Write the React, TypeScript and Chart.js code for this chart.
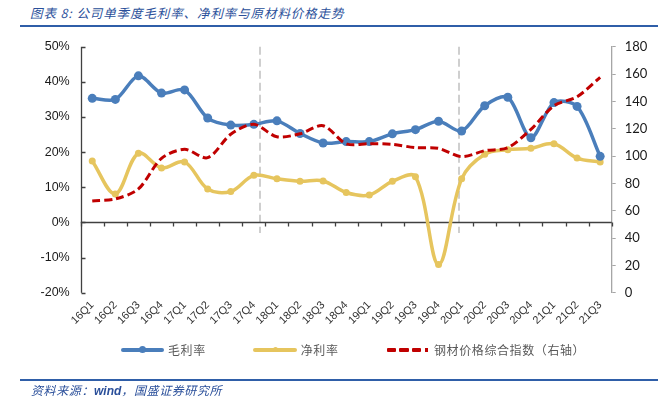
import React, { useEffect, useRef } from "react";
import { Chart, registerables } from "chart.js";

Chart.register(...registerables);

const categories = [
  "16Q1", "16Q2", "16Q3", "16Q4", "17Q1", "17Q2", "17Q3", "17Q4",
  "18Q1", "18Q2", "18Q3", "18Q4", "19Q1", "19Q2", "19Q3", "19Q4",
  "20Q1", "20Q2", "20Q3", "20Q4", "21Q1", "21Q2", "21Q3",
];
const grossMargin = [
  35.3, 35.0, 41.7, 36.8, 37.7, 29.7, 27.7, 27.9, 28.9, 25.3, 22.6, 23.0,
  23.0, 25.2, 26.4, 28.8, 26.0, 33.2, 35.6, 24.1, 34.1, 33.0, 18.8,
];
const netMargin = [
  17.5, 8.1, 19.7, 15.5, 17.2, 9.5, 8.8, 13.4, 12.4, 11.7, 11.8, 8.5,
  7.8, 11.7, 13.0, -12.0, 12.4, 19.4, 20.7, 21.1, 22.4, 18.3, 17.2,
];
const steelIndex = [
  67.1, 68.6, 75.9, 98.3, 104.9, 98.8, 115.9, 123.2, 114.1, 116.3, 122.2, 109.0,
  109.0, 108.6, 106.1, 105.6, 99.5, 103.9, 106.1, 119.5, 136.8, 143.4, 157.6,
];
const leftTicks = { min: -20, max: 50, step: 10 };
const rightTicks = { min: 0, max: 180, step: 20 };
const dividerPositions = [7.27, 15.9];
const dividerRange = [50, -3];

const seriesNames = ["毛利率", "净利率", "钢材价格综合指数（右轴）"];
const titleText = "图表 8:  公司单季度毛利率、净利率与原材料价格走势";

const BLUE = "#4a7ebb";
const YELLOW = "#e6c55e";
const RED = "#c00000";

const axesPlugin = {
  id: "customAxes",
  beforeDatasetsDraw(chart: any) {
    const { ctx, chartArea, scales } = chart;
    const x = scales.x;
    const y = scales.y;
    ctx.save();
    // dashed dividers
    ctx.strokeStyle = "#cfcfcf";
    ctx.lineWidth = 2;
    ctx.setLineDash([8, 4]);
    for (const p of dividerPositions) {
      const px = Math.round(x.getPixelForValue(p)) + 0.0;
      ctx.beginPath();
      ctx.moveTo(px, y.getPixelForValue(dividerRange[0]));
      ctx.lineTo(px, y.getPixelForValue(dividerRange[1]));
      ctx.stroke();
    }
    ctx.setLineDash([]);
    // left axis
    ctx.strokeStyle = "#404040";
    ctx.lineWidth = 1.3;
    const lx = Math.round(chartArea.left) + 0.5;
    ctx.beginPath();
    ctx.moveTo(lx, chartArea.top);
    ctx.lineTo(lx, chartArea.bottom);
    for (let v = leftTicks.min; v <= leftTicks.max; v += leftTicks.step) {
      const py = Math.round(y.getPixelForValue(v)) + 0.5;
      ctx.moveTo(lx, py);
      ctx.lineTo(lx + 4, py);
    }
    ctx.stroke();
    // x axis line at zero
    const y0 = Math.round(y.getPixelForValue(0)) + 0.5;
    ctx.beginPath();
    ctx.moveTo(chartArea.left, y0);
    ctx.lineTo(chartArea.right, y0);
    for (let i = 0; i <= categories.length; i++) {
      const px = Math.round(x.getPixelForValue(i - 0.5)) + 0.5;
      ctx.moveTo(px, y0);
      ctx.lineTo(px, y0 + 4);
    }
    ctx.stroke();
    ctx.restore();
  },
};

function ChartCanvas() {
  const ref = useRef<HTMLCanvasElement | null>(null);
  useEffect(() => {
    if (!ref.current) return;
    const chart = new Chart(ref.current, {
      type: "line",
      data: {
        labels: categories,
        datasets: [
          {
            label: seriesNames[2],
            data: steelIndex,
            yAxisID: "y1",
            borderColor: RED,
            borderWidth: 3,
            borderDash: [8, 4],
            pointRadius: 0,
            tension: 0.3,
            fill: false,
          },
          {
            label: seriesNames[0],
            data: grossMargin,
            yAxisID: "y",
            borderColor: BLUE,
            backgroundColor: BLUE,
            borderWidth: 3.5,
            pointRadius: 4.5,
            pointBorderWidth: 0,
            tension: 0.3,
            fill: false,
          },
          {
            label: seriesNames[1],
            data: netMargin,
            yAxisID: "y",
            borderColor: YELLOW,
            backgroundColor: YELLOW,
            borderWidth: 3.5,
            pointRadius: 3.5,
            pointBorderWidth: 0,
            tension: 0.35,
            fill: false,
          },
        ],
      },
      options: {
        responsive: false,
        animation: false,
        devicePixelRatio: 1,
        layout: { padding: { top: 46.7, left: 0, right: 0, bottom: 65.3 } },
        plugins: { legend: { display: false }, tooltip: { enabled: false } },
        scales: {
          x: {
            type: "category",
            offset: true,
            grid: { display: false, drawTicks: false },
            border: { display: false },
            ticks: {
              minRotation: 45,
              maxRotation: 45,
              autoSkip: false,
              padding: 6,
              color: "#333333",
              font: { family: "'Liberation Sans', Arial", size: 11 },
            },
            afterFit: (s: any) => { s.height = 40; },
          },
          y: {
            position: "left",
            min: leftTicks.min,
            max: leftTicks.max,
            grid: { display: false, drawTicks: false },
            border: { display: false },
            ticks: {
              stepSize: leftTicks.step,
              padding: 11,
              color: "#1a1a1a",
              font: { family: "'Liberation Sans', Arial", size: 12.5 },
              callback: (v: any) => `${v}%`,
            },
            afterFit: (s: any) => { s.width = 80.7; },
          },
          y1: {
            position: "right",
            min: rightTicks.min,
            max: rightTicks.max,
            grid: { drawOnChartArea: false, drawTicks: true, tickLength: 4, color: "#a6a6a6" },
            border: { display: true, color: "#a6a6a6", width: 1.3 },
            ticks: {
              stepSize: rightTicks.step,
              padding: 9,
              color: "#1a1a1a",
              font: { family: "Lato, 'Liberation Sans'", size: 13 },
            },
            afterFit: (s: any) => { s.width = 46.3; },
          },
        },
      },
      plugins: [axesPlugin],
    });
    return () => chart.destroy();
  }, []);
  return (
    <canvas
      ref={ref}
      width={658}
      height={398}
      style={{ position: "absolute", left: 0, top: 0, width: 658, height: 398 }}
    />
  );
}

const legendText: React.CSSProperties = {
  position: "absolute",
  top: 341,
  fontFamily: "'Noto Sans CJK SC', sans-serif",
  fontSize: 12,
  letterSpacing: 0.6,
  color: "#595959",
  lineHeight: "17px",
  whiteSpace: "nowrap",
};

function LineSwatch({ left, width, color, dot }: { left: number; width: number; color: string; dot: number }) {
  return (
    <>
      <div style={{ position: "absolute", left, top: 348, width, height: 3.5, background: color, borderRadius: 2 }} />
      <div
        style={{
          position: "absolute",
          left: left + width / 2 - dot / 2,
          top: 349.7 - dot / 2,
          width: dot,
          height: dot,
          borderRadius: "50%",
          background: color,
        }}
      />
    </>
  );
}

export default function App() {
  return (
    <div style={{ position: "fixed", left: 0, top: 0, width: 658, height: 398, background: "#fff", overflow: "hidden" }}>
      <div
        style={{
          position: "absolute",
          left: 30,
          top: 4,
          fontFamily: "'Noto Sans CJK SC', sans-serif",
          fontStyle: "italic",
          fontSize: 12.5,
          letterSpacing: 0.9,
          color: "#2a4f9a",
          whiteSpace: "nowrap",
          lineHeight: "18px",
        }}
      >
        {titleText}
      </div>
      <div style={{ position: "absolute", left: 20, top: 25, width: 638, height: 2, background: "#2f5ea8" }} />
      <ChartCanvas />
      <LineSwatch left={120.7} width={43} color={BLUE} dot={7} />
      <div style={{ ...legendText, left: 168 }}>{seriesNames[0]}</div>
      <LineSwatch left={253} width={44} color={YELLOW} dot={5} />
      <div style={{ ...legendText, left: 300.7 }}>{seriesNames[1]}</div>
      {[386.7, 399.3, 412].map((l) => (
        <div key={l} style={{ position: "absolute", left: l, top: 348, width: 9.3, height: 3.5, background: RED, borderRadius: 1 }} />
      ))}
      <div style={{ position: "absolute", left: 425.3, top: 348, width: 3, height: 3.5, background: RED }} />
      <div style={{ ...legendText, left: 434 }}>{seriesNames[2]}</div>
      <div style={{ position: "absolute", left: 20, top: 379, width: 638, height: 2, background: "#2f5ea8" }} />
      <div
        style={{
          position: "absolute",
          left: 31,
          top: 381,
          fontFamily: "'Noto Sans CJK SC', sans-serif",
          fontStyle: "italic",
          fontSize: 12,
          letterSpacing: 0.6,
          color: "#2a4f9a",
          whiteSpace: "nowrap",
          lineHeight: "17px",
        }}
      >
        资料来源：<span style={{ fontFamily: "'Liberation Sans', Arial", fontWeight: "bold", letterSpacing: 0 }}>wind</span>，国盛证券研究所
      </div>
    </div>
  );
}
